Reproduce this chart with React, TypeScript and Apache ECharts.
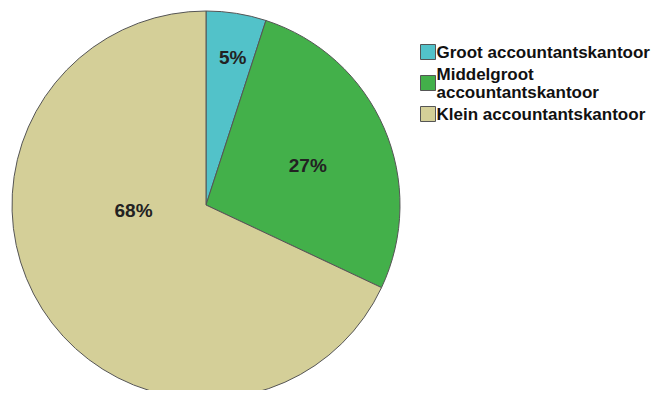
import React, { useEffect, useRef } from "react";
import * as echarts from "echarts";

const categories = ["Groot accountantskantoor", "Middelgroot accountantskantoor", "Klein accountantskantoor"];
const legendLabels = ["Groot accountantskantoor", "Middelgroot\naccountantskantoor", "Klein accountantskantoor"];
const values = [5, 27, 68];
const colors = ["#52c2c9", "#43b04a", "#d4cf98"];
const labelOffsets: [number, number][] = [[11, -49], [10, 0], [12, -48]];

export default function App() {
  const ref = useRef<HTMLDivElement>(null);
  useEffect(() => {
    if (!ref.current) return;
    const chart = echarts.init(ref.current, undefined, { renderer: "svg" });
    chart.setOption({
      animation: false,
      backgroundColor: "#ffffff",
      legend: {
        orient: "vertical",
        left: 407,
        top: 30,
        itemWidth: 15,
        itemHeight: 15,
        itemGap: 4,
        icon: "rect",
        selectedMode: false,
        itemStyle: { borderColor: "#555", borderWidth: 1 },
        formatter: (name: string) => legendLabels[categories.indexOf(name)],
        textStyle: {
          fontFamily: "Liberation Sans, Arial, sans-serif",
          fontWeight: "bold",
          fontSize: 17,
          lineHeight: 18,
          color: "#111",
          padding: [0, 0, 0, -4],
        },
        data: categories,
      },
      series: [
        {
          type: "pie",
          center: [198, 197],
          radius: 194,
          startAngle: 90,
          clockwise: true,
          silent: true,
          itemStyle: { borderColor: "#555", borderWidth: 1 },
          label: {
            position: "inside",
            formatter: (p: any) => `${p.value}%`,
            fontFamily: "Liberation Sans, Arial, sans-serif",
            fontWeight: "bold",
            fontSize: 19,
            color: "#222",
          },
          labelLine: { show: false },
          data: categories.map((name, i) => ({
            name,
            value: values[i],
            itemStyle: { color: colors[i] },
            label: { offset: labelOffsets[i] },
          })),
        },
      ],
    });
    return () => chart.dispose();
  }, []);
  return <div ref={ref} style={{ width: 643, height: 382 }} />;
}
